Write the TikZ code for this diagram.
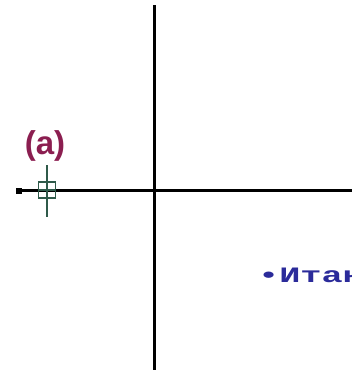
\documentclass[tikz,border=0pt]{standalone}
\usepackage{fontspec}
\usepackage{graphicx}
\usepackage{tikz}
\usetikzlibrary{positioning}
\newfontfamily\panelfont{Liberation Sans}
\newfontfamily\slidefont{Liberation Mono}
\definecolor{panelred}{RGB}{139,30,80}
\definecolor{slideblue}{RGB}{43,43,154}
\definecolor{markgreen}{RGB}{47,90,74}

\begin{document}
\begin{tikzpicture}[
  x=1pt, y=-1pt,
  axis/.style={draw, line width=3pt, black},
  crossmark/.style={draw, line width=1.3pt, markgreen},
  panel/.style={font=\panelfont\bfseries\fontsize{33}{38}\selectfont, text=panelred, inner sep=0pt},
  slidetext/.style={font=\slidefont\bfseries\fontsize{22}{26}\selectfont, text=slideblue, inner sep=0pt},
]
\useasboundingbox (0,0) rectangle (352,373);
\clip (0,0) rectangle (352,373);
% Axes
\coordinate (top) at (154,5);
\coordinate (bottom) at (154,370);
\coordinate (left) at (16,190);
\coordinate (right) at (352,190);
\draw[axis] (top) -- (bottom);
\draw[axis] (left) -- (right);
\fill (left) ++(0,-2) rectangle ++(6,6);
% Marker
\coordinate (mark) at (47,190);
\draw[crossmark] (mark) ++(-8.5,-8) rectangle ++(17,16);
\draw[crossmark] (mark) ++(0,-25) -- ++(0,52);
\draw[crossmark] (mark) ++(-8.5,0) -- ++(17,0);
% Labels
\node[panel, anchor=base] (tag) at (45,154) {(a)};
\node[slidetext, anchor=base west] (note) at (258,282)
  {\scalebox{1.6}[1]{•Итак}};
\end{tikzpicture}
\end{document}
